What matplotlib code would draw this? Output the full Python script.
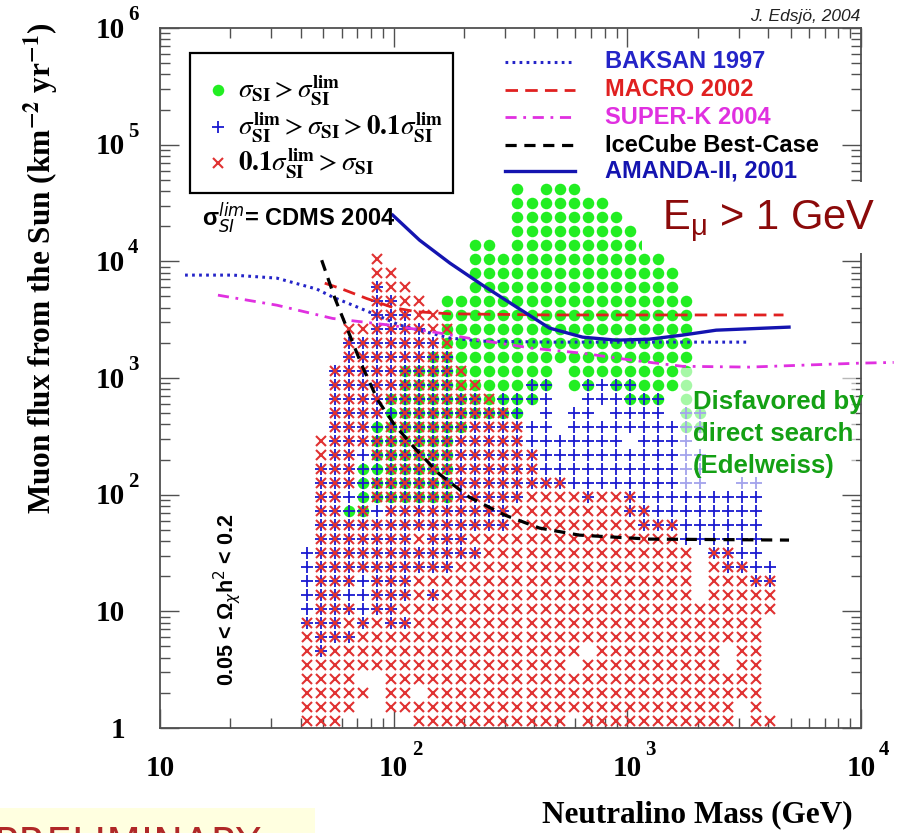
import re
import numpy as np
import matplotlib
matplotlib.use("Agg")
import matplotlib.pyplot as plt
from matplotlib.patches import Rectangle
from matplotlib.ticker import LogLocator, NullFormatter

W, H, DPI = 903, 833, 100

# ---------------- data ----------------
# neutralino-mass bin centres (GeV) of the scan grid
mass_bins = [42.66, 48.98, 56.23, 64.57, 74.13, 85.11, 97.72, 112.2, 128.8, 147.9,
             169.8, 195.0, 223.9, 257.0, 295.1, 338.8, 389.0, 446.7, 512.9, 588.8,
             676.1, 776.2, 891.3, 1023, 1175, 1349, 1549, 1778, 2042, 2344,
             2692, 3090, 3548, 4074]
# muon-flux bin centres (km^-2 yr^-1), bottom to top
flux_bins = [1.148, 1.514, 1.995, 2.630, 3.467, 4.571, 6.026, 7.943, 10.47, 13.80,
             18.20, 23.99, 31.62, 41.69, 54.95, 72.44, 95.50, 125.9, 166.0, 218.8,
             288.4, 380.2, 501.2, 660.7, 871.0, 1148, 1514, 1995, 2630, 3467,
             4571, 6026, 7943, 10470, 13800, 18200, 23990, 31620, 41690]
# occupied cells, top row first, run-length coded per mass bin:
# r = x only, b = + only, g = dot only, a = x and +, d = dot, + and x,
# p = dot and +, q = dot and x, . = empty
cell_rows = [
    "15.g.3g14.", "15.7g12.", "15.8g11.", "15.9g10.", "12.2g.10g9.",
    "5.r6.14g8.", "5.2r5.15g7.", "5.a2r4.15g7.", "5.2a2r.18g6.", "5.3a2r18g6.",
    "3.2r4arq17g6.", "3.7aq17g6.", "3.6a2d17g6.", "2.5a4dq6g.9g6.",
    "2.5a4d2q3g2p.gpb2p4g6.", "2.4a7dq3pb2.3b3p.g6.", "2.4ap8dp.b.2b.4b.2p5.",
    "2.3ap6d4a2b.8b2p5.", ".r3a6d5a7b.4b6.", ".r2ab6d6a12b5.", ".3a2p5d6a12b5.",
    ".3ap6d8a10b2.2b.", ".2abp6d5a4ra2ra9b.", ".2apdb9a8r2a8b.", ".14a9r3a6b.",
    ".7ar3a15r6b.", "b12a15r.2a2b.", "b10a17r.r2a2b", "b3ab3a20r.3r2a",
    "b2a2b3ara18r.5r", "b3ab2a27r", "3arar2a25r.", "r3a29r.", "ra18r.9r.2r.",
    "19r.10r.2r.", "4r2.27r.", "5r.2r.24r.", "4r2.25r.r.", "3r5.11r.11r.2r",
]

baksan_m = [12.8, 20.5, 31.6, 46.9, 54.8, 66.8, 84.6, 106, 174, 240, 464, 3320]
baksan_f = [7620, 7620, 7180, 5780, 4940, 4210, 3460, 2840, 2200, 2070, 2030, 2030]
macro_m = [50.7, 60, 76.7, 100, 125, 174, 464, 4660]
macro_f = [6500, 5800, 4800, 4000, 3700, 3550, 3470, 3470]
superk_m = [17.7, 31.6, 54.8, 96.1, 157, 233, 393, 643, 1050, 1718, 3320, 9790, 13800]
superk_f = [5130, 4210, 3240, 2840, 2430, 2110, 1800, 1630, 1420, 1260, 1240, 1340, 1360]
icecube_m = [49.2, 56, 63.6, 73, 85.5, 101, 123, 157, 211, 298, 421, 623, 1240, 4920]
icecube_f = [10230, 4840, 2570, 1290, 646, 395, 251, 150, 95, 67, 51.7, 45, 41.6, 40.8]
amanda_m = [99.1, 129, 174, 240, 336, 464, 643, 897, 1240, 1718, 2400, 4920]
amanda_f = [24900, 15200, 9660, 6250, 4050, 2680, 2240, 2110, 2150, 2330, 2570, 2730]

exp_labels = ["BAKSAN 1997", "MACRO 2002", "SUPER-K 2004", "IceCube Best-Case", "AMANDA-II, 2001"]
x_tick_exp = [1, 2, 3, 4]
y_tick_exp = [0, 1, 2, 3, 4, 5, 6]

# ---------------- helpers ----------------
AX_L, AX_R, AX_T, AX_B = 160, 861, 28, 728


def fxy(px, py):
    return px / W, 1 - py / H


def axy(px, py):
    return (px - AX_L) / (AX_R - AX_L), (AX_B - py) / (AX_B - AX_T)


code_sets = {"r": "r", "b": "b", "g": "g", "a": "rb", "d": "rbg", "p": "gb", "q": "rg", ".": ""}
pts = {"r": ([], []), "b": ([], []), "g": ([], [])}
nrows = len(cell_rows)
for i, row in enumerate(cell_rows):
    j = nrows - 1 - i
    c = 0
    for num, code in re.findall(r"(\d*)([a-z.])", row):
        n = int(num) if num else 1
        for _ in range(n):
            if c < len(mass_bins):
                for k in code_sets[code]:
                    pts[k][0].append(mass_bins[c])
                    pts[k][1].append(flux_bins[j])
            c += 1

# ---------------- figure ----------------
fig = plt.figure(figsize=(W / DPI, H / DPI), dpi=DPI)
fig.patch.set_facecolor("white")
ax = fig.add_axes([AX_L / W, 1 - AX_B / H, (AX_R - AX_L) / W, (AX_B - AX_T) / H])
ax.set_xscale("log")
ax.set_yscale("log")
ax.set_xlim(10, 1e4)
ax.set_ylim(1, 1e6)
for s in ax.spines.values():
    s.set_color("#505050")
    s.set_linewidth(1.3)
for axis in (ax.xaxis, ax.yaxis):
    axis.set_major_locator(LogLocator(10, numticks=20))
    axis.set_minor_locator(LogLocator(10, subs=np.arange(2, 10), numticks=200))
    axis.set_major_formatter(NullFormatter())
    axis.set_minor_formatter(NullFormatter())
ax.tick_params(which="both", direction="in", top=True, right=True, color="#505050", width=1.0)
ax.tick_params(which="major", length=14)
ax.tick_params(which="minor", length=7)

GREEN, BLUE, RED = "#22ee22", "#1a1ad0", "#e03232"
ax.plot(pts["g"][0], pts["g"][1], "o", color=GREEN, ms=8.3, mec="none", zorder=2)
ax.plot(pts["b"][0], pts["b"][1], "+", color=BLUE, ms=8.2, mew=1.3, zorder=3)
ax.plot(pts["r"][0], pts["r"][1], "x", color=RED, ms=7.8, mew=1.5, zorder=4)

# faded region behind the Edelweiss note
x0, y0 = axy(680, 490)
x1, y1 = axy(856, 368)
ax.add_patch(Rectangle((x0, y0), x1 - x0, y1 - y0, transform=ax.transAxes,
                       facecolor="white", edgecolor="none", alpha=0.6, zorder=5))

styles = [
    dict(color="#2424c8", lw=2.2, ls=(0, (0.9, 1.4))),
    dict(color="#e02020", lw=2.0, ls=(0, (4.5, 2.6))),
    dict(color="#e030e0", lw=2.0, ls=(0, (4.0, 2.4, 1.0, 2.4))),
    dict(color="black", lw=2.3, ls=(0, (3.5, 2.4))),
    dict(color="#1414b0", lw=2.4, ls="-"),
]
curves = [(baksan_m, baksan_f), (macro_m, macro_f), (superk_m, superk_f),
          (icecube_m, icecube_f), (amanda_m, amanda_f)]
for (m, f), st in zip(curves, styles):
    ax.plot(m, f, zorder=6, clip_on=False, **st)

# right legend (no frame)
label_cols = ["#2424c8", "#e02020", "#e030e0", "black", "#1414b0"]
leg_y = [62, 90, 117, 145, 171]
for lab, st, col, py in zip(exp_labels, styles, label_cols, leg_y):
    xa, ya = axy(505, py)
    xb, _ = axy(575, py)
    ax.plot([xa, xb], [ya, ya], transform=ax.transAxes, clip_on=False, zorder=6, **st)
    tx, ty = axy(605, py)
    ax.text(tx, ty, lab, transform=ax.transAxes, ha="left", va="center",
            fontsize=17, fontweight="bold", family="Liberation Sans", color=col, zorder=7)

# left legend box
bx0, by0 = axy(190, 193)
bx1, by1 = axy(453, 53)
ax.add_patch(Rectangle((bx0, by0), bx1 - bx0, by1 - by0, transform=ax.transAxes,
                       facecolor="white", edgecolor="black", lw=1.6, zorder=7, clip_on=False))
leg_items = [
    ("o", GREEN, dict(ms=8.3, mec="none"), 90,
     r"$\sigma_{\mathbf{SI}} > \sigma_{\mathbf{SI}}^{\mathbf{lim}}$"),
    ("+", BLUE, dict(ms=8.2, mew=1.3), 127,
     r"$\sigma_{\mathbf{SI}}^{\mathbf{lim}} > \sigma_{\mathbf{SI}} > \mathbf{0.1}\sigma_{\mathbf{SI}}^{\mathbf{lim}}$"),
    ("x", RED, dict(ms=7.8, mew=1.5), 163,
     r"$\mathbf{0.1}\sigma_{\mathbf{SI}}^{\mathbf{lim}} > \sigma_{\mathbf{SI}}$"),
]
for mk, col, kw, py, txt in leg_items:
    mx, my = axy(218, py)
    ax.plot([mx], [my], mk, color=col, transform=ax.transAxes, clip_on=False, zorder=8, **kw)
    tx, ty = axy(238, py)
    ax.text(tx, ty, txt, transform=ax.transAxes, ha="left", va="center", fontsize=19.5,
            math_fontfamily="stix", zorder=8)

tx, ty = axy(202, 218)
ax.text(tx, ty, r"$\mathregular{σ}_{SI}^{lim}$= CDMS 2004", transform=ax.transAxes, ha="left",
        va="center", fontsize=17, fontweight="bold", family="Liberation Sans",
        math_fontfamily="dejavusans", zorder=7)

tx, ty = axy(227, 600)
ax.text(tx, ty, r"0.05 < $\mathregular{Ω}_{\chi}$h$^{2}$ < 0.2", transform=ax.transAxes, rotation=90,
        ha="center", va="center", fontsize=15.5, fontweight="bold", family="Liberation Sans",
        math_fontfamily="dejavusans", zorder=7)

tx, ty = axy(693, 390)
ax.text(tx, ty, "Disfavored by\ndirect search\n(Edelweiss)", transform=ax.transAxes,
        ha="left", va="top", fontsize=18.5, fontweight="bold", family="Liberation Sans",
        color="#14a014", linespacing=1.42, zorder=7, clip_on=False)

# top credit
fx, fy = fxy(860, 17)
fig.text(fx, fy, "J. Edsjö, 2004", ha="right", va="center", fontsize=12.5, style="italic",
         family="Liberation Sans", color="#222222")

# E_mu box (covers the right frame)
ex0, ey0 = fxy(642, 253)
fig.add_artist(Rectangle((ex0, ey0), 1 - ex0, (253 - 182) / H, transform=fig.transFigure,
                         facecolor="white", edgecolor="none", zorder=10))
fx, fy = fxy(662, 222)
fig.text(fx, fy, r"E$_{\mathregular{μ}}$ > 1 GeV", ha="left", va="center", fontsize=30,
         family="Liberation Sans", math_fontfamily="dejavusans", color="#8b0a0a", zorder=11)

# tick labels
SERIF = "Liberation Serif"
for k in x_tick_exp:
    px = AX_L + (AX_R - AX_L) * (k - 1) / 3
    fx, fy = fxy(px, 768)
    fig.text(fx, fy, "10", ha="center", va="center", fontsize=21, fontweight="bold", family=SERIF)
    if k > 1:
        fx, fy = fxy(px + 18, 750)
        fig.text(fx, fy, str(k), ha="left", va="center", fontsize=15, fontweight="bold", family=SERIF)
for k in y_tick_exp:
    py = AX_B - (AX_B - AX_T) * k / 6
    fx, fy = fxy(125, py + 2)
    fig.text(fx, fy, "1" if k == 0 else "10", ha="right", va="center", fontsize=21,
             fontweight="bold", family=SERIF)
    if k > 1:
        fx, fy = fxy(128, py - 13)
        fig.text(fx, fy, str(k), ha="left", va="center", fontsize=15, fontweight="bold", family=SERIF)

fx, fy = fxy(697, 815)
fig.text(fx, fy, "Neutralino Mass (GeV)", ha="center", va="center", fontsize=22.5,
         fontweight="bold", family=SERIF)
fx, fy = fxy(41, 268)
fig.text(fx, fy, r"Muon flux from the Sun (km$^{\mathbf{-2}}$ yr$^{\mathbf{-1}}$)", rotation=90,
         ha="center", va="center", fontsize=22.5, fontweight="bold", family=SERIF,
         math_fontfamily="stix")

# preliminary stamp at the bottom edge (cut by the page edge, as in the original)
px0, py0 = fxy(0, 833)
fig.add_artist(Rectangle((px0, py0), 315 / W, 25 / H, transform=fig.transFigure,
                         facecolor="#ffffe0", edgecolor="none", zorder=1))
fx, fy = fxy(-6, 826)
fig.text(fx, fy, "PRELIMINARY", ha="left", va="top", fontsize=29, color="#b02828",
         family="DejaVu Sans", zorder=2)

fig.savefig("out.png", dpi=DPI, facecolor="white")
